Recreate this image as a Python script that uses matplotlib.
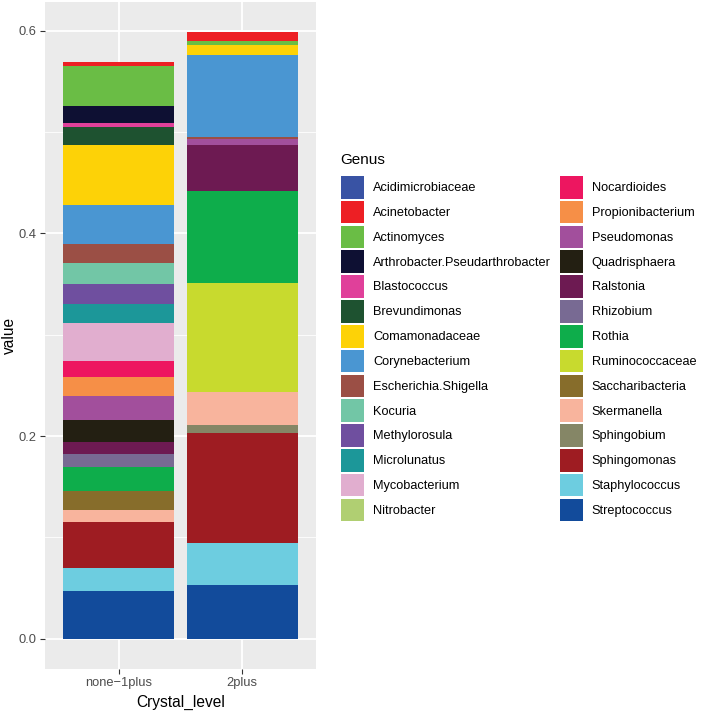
import numpy as np
import matplotlib
matplotlib.use("Agg")
import matplotlib.pyplot as plt
from matplotlib.patches import Patch

plt.rcParams['font.family'] = ['Liberation Sans', 'DejaVu Sans']

# genus names (legend order, ggplot stacks first one on top)
genus = ['Acidimicrobiaceae', 'Acinetobacter', 'Actinomyces', 'Arthrobacter.Pseudarthrobacter',
         'Blastococcus', 'Brevundimonas', 'Comamonadaceae', 'Corynebacterium',
         'Escherichia.Shigella', 'Kocuria', 'Methylorosula', 'Microlunatus',
         'Mycobacterium', 'Nitrobacter', 'Nocardioides', 'Propionibacterium',
         'Pseudomonas', 'Quadrisphaera', 'Ralstonia', 'Rhizobium', 'Rothia',
         'Ruminococcaceae', 'Saccharibacteria', 'Skermanella', 'Sphingobium',
         'Sphingomonas', 'Staphylococcus', 'Streptococcus']

colors = ['#3953A4', '#ED1F24', '#6ABD45', '#0E1033', '#E0409A', '#1E5230', '#FDD207',
          '#4A96D2', '#9B4F45', '#72C6A6', '#6F4F9F', '#1C9799', '#E1AECF', '#B0CF72',
          '#ED1660', '#F68F47', '#A24F9C', '#231F12', '#6D1A52', '#786A93', '#0EAD4B',
          '#C8DA2E', '#876D2B', '#F8B49D', '#858666', '#9E1C22', '#6DCDE0', '#124B9B']

levels = ['none\u22121plus', '2plus']

none_1plus = [0.0, 0.0037, 0.0401, 0.0167, 0.0043, 0.0177, 0.0591, 0.0378,
              0.0197, 0.0206, 0.0192, 0.0193, 0.0368, 0.0, 0.0164, 0.0184,
              0.0237, 0.0219, 0.0122, 0.0128, 0.0233, 0.0, 0.0191, 0.0114,
              0.0, 0.0457, 0.0227, 0.0469]

plus2 = [0.0, 0.0088, 0.0040, 0.0, 0.0, 0.0, 0.0094, 0.0812,
         0.0020, 0.0, 0.0, 0.0, 0.0, 0.0, 0.0, 0.0,
         0.0062, 0.0, 0.0453, 0.0, 0.0910, 0.1071, 0.0, 0.0328,
         0.0078, 0.1084, 0.0418, 0.0528]

vals = np.array([none_1plus, plus2])  # shape (2, n_genus)
x = np.arange(1, len(levels) + 1)

fig = plt.figure(figsize=(7.09, 7.14), dpi=100)
W, H = 709, 714
ax = fig.add_axes([45 / W, 1 - 669 / H, (316 - 45) / W, (669 - 2) / H])
ax.set_facecolor('#EBEBEB')

# stack from the bottom: last genus first
bottom = np.zeros(len(levels))
for i in range(len(genus) - 1, -1, -1):
    ax.bar(x, vals[:, i], width=0.9, bottom=bottom, color=colors[i], linewidth=0, zorder=3)
    bottom += vals[:, i]

top = vals.sum(axis=1).max()
ax.set_ylim(-0.05 * top, top * 1.05)
ax.set_xlim(0.4, 2.6)
ax.set_yticks([0.0, 0.2, 0.4, 0.6])
ax.set_yticklabels(['0.0', '0.2', '0.4', '0.6'])
ax.set_yticks([0.1, 0.3, 0.5], minor=True)
ax.set_xticks(x)
ax.set_xticklabels(levels)

ax.grid(True, which='major', color='white', linewidth=1.3, zorder=0)
ax.grid(True, which='minor', axis='y', color='white', linewidth=0.6, zorder=0)
ax.set_axisbelow(True)
for s in ax.spines.values():
    s.set_visible(False)
ax.tick_params(axis='both', which='major', length=3.5, width=0.8, color='#333333',
               labelsize=9.3, labelcolor='#4D4D4D', pad=2.5)
ax.tick_params(axis='y', which='minor', length=0)

ax.set_xlabel('Crystal_level', fontsize=11.2, labelpad=4)
ax.set_ylabel('value', fontsize=11.2)
ax.yaxis.set_label_coords(-0.103, 0.5)

# legend title drawn on its own so the gap to the keys matches
fig.text(340 / W, 1 - 164 / H, 'Genus', fontsize=11, ha='left', va='baseline')
handles = [Patch(facecolor=c, edgecolor='none') for c in colors]
leg = fig.legend(handles, genus, ncol=2, loc='upper left',
                 bbox_to_anchor=(332 / W, 1 - 167 / H), frameon=False,
                 fontsize=9.2, handlelength=1.8, handleheight=2.35, labelspacing=0.17,
                 handletextpad=0.7, columnspacing=0.7, borderpad=0.2)

fig.savefig('out.png', dpi=100)
